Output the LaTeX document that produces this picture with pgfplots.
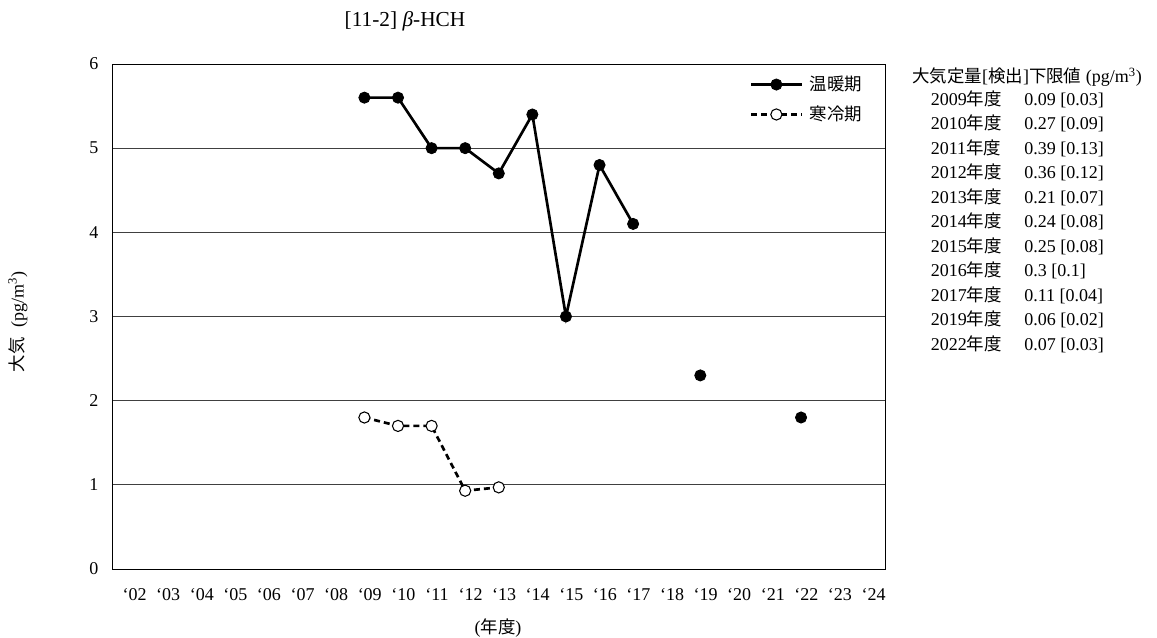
\documentclass[border=0pt]{standalone}
\usepackage{fontspec}
\setmainfont{Liberation Serif}
\newfontfamily\jp[Scale=0.97]{Noto Sans CJK JP}
\usepackage{pgfplots}
\pgfplotsset{compat=1.18}
\newcommand\px[2]{({(#1)*0.75pt},{-(#2)*0.75pt})}
\begin{document}
\begin{tikzpicture}
\useasboundingbox \px{0}{0} rectangle \px{1157}{638};
\begin{axis}[
  at={(84.375pt,-48pt)}, anchor=north west,
  scale only axis, width=579.4pt, height=378.75pt,
  xmin=-0.5, xmax=22.5, ymin=0, ymax=6,
  xtick={0,...,22},
  xticklabels={‘02,‘03,‘04,‘05,‘06,‘07,‘08,‘09,‘10,‘11,‘12,‘13,‘14,‘15,‘16,‘17,‘18,‘19,‘20,‘21,‘22,‘23,‘24},
  ytick={0,...,6},
  major tick length=0pt,
  ymajorgrids,
  grid style={black!75, line width=0.7pt},
  axis line style={black, line width=0.7pt},
  tick label style={font=\fontsize{13.5}{16}\selectfont},
  xticklabel style={yshift=-11pt, xshift=4pt},
  yticklabel style={xshift=-7pt},
  /pgf/number format/assume math mode=true,
  unbounded coords=jump,
  legend style={at={(1,1)}, anchor=north east, xshift=-12pt, yshift=-5pt,
    draw=none, fill=none, font=\fontsize{13.5}{16}\selectfont\jp, row sep=6pt,
    /tikz/every odd column/.append style={column sep=3pt}},
  legend cell align=left,
  legend image code/.code={\draw[mark repeat=2,mark phase=2,#1] plot coordinates {(0pt,0pt)(19pt,0pt)(38pt,0pt)};},
]
\addplot[black, line width=2pt, mark=*, mark size=4.2pt, mark options={solid, fill=black, line width=0.6pt}]
  coordinates {(7,5.6) (8,5.6) (9,5.0) (10,5.0) (11,4.7) (12,5.4) (13,3.0) (14,4.8) (15,4.1) (16,nan) (17,2.3) (18,nan) (20,1.8)};
\addlegendentry{温暖期}
\addplot[black, line width=2pt, dash pattern=on 4.5pt off 3pt, mark=*, mark size=4.2pt, mark options={solid, fill=white, line width=0.8pt}]
  coordinates {(7,1.8) (8,1.7) (9,1.7) (10,0.93) (11,0.97)};
\addlegendentry{寒冷期}
\end{axis}
\node[font=\fontsize{16}{19}\selectfont] at \px{405}{21} {[11-2] \textit{β}-HCH};
\node[font=\fontsize{13.5}{16}\selectfont, rotate=90] at \px{18}{322} {{\jp 大気}\hspace{7pt}(pg/m\textsuperscript{3})};
\node[font=\fontsize{13.5}{16}\selectfont] at \px{498}{628} {({\jp 年度})};
\begin{scope}[every node/.style={font=\fontsize{13.5}{16}\selectfont, anchor=base west, inner sep=0pt}]
\node at \px{912}{83} {{\jp 大気定量}[{\jp 検出}]{\jp 下限値} (pg/m\textsuperscript{3})};
\foreach \i/\yr/\v in {0/2009/{0.09 [0.03]},1/2010/{0.27 [0.09]},2/2011/{0.39 [0.13]},3/2012/{0.36 [0.12]},4/2013/{0.21 [0.07]},5/2014/{0.24 [0.08]},6/2015/{0.25 [0.08]},7/2016/{0.3 [0.1]},8/2017/{0.11 [0.04]},9/2019/{0.06 [0.02]},10/2022/{0.07 [0.03]}}{
  \node at \px{930.5}{105.5+24.45*\i} {\yr{\jp 年度}};
  \node at \px{1024}{105.5+24.45*\i} {\v};
}
\end{scope}
\end{tikzpicture}
\end{document}
